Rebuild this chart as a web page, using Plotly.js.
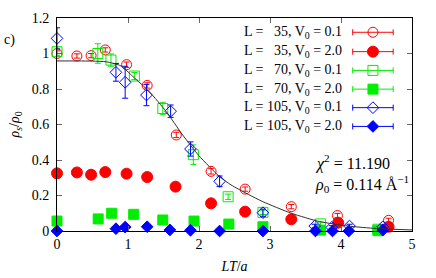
<!DOCTYPE html>
<html>
<head>
<meta charset="utf-8">
<script src="https://cdn.plot.ly/plotly-3.0.1.min.js"></script>
<style>html,body{margin:0;padding:0;background:#fff}#chart{width:436px;height:278px}</style>
</head>
<body>
<div id="chart"></div>
<script>
// ---- data ----
const seriesNames = [
  "L = \u200735, V<sub>0</sub> = 0.1",
  "L = \u200735, V<sub>0</sub> = 2.0",
  "L = \u200770, V<sub>0</sub> = 0.1",
  "L = \u200770, V<sub>0</sub> = 2.0",
  "L = 105, V<sub>0</sub> = 0.1",
  "L = 105, V<sub>0</sub> = 2.0"
];

const x35a = [0, 0.28, 0.48, 0.68, 0.98, 1.27, 1.68, 2.17, 2.65, 3.30, 3.95, 4.67];
const y35a = [1.0, 0.986, 0.988, 1.02, 0.937, 0.82, 0.541, 0.336, 0.236, 0.137, 0.087, 0.06];
const e35a = [0.015, 0.012, 0.012, 0.012, 0.015, 0.015, 0.015, 0.015, 0.012, 0.012, 0.012, 0.012];

const x35b = [0, 0.28, 0.48, 0.68, 0.98, 1.27, 1.67, 2.17, 2.65, 3.30, 3.96, 4.67];
const y35b = [0.325, 0.33, 0.317, 0.332, 0.323, 0.304, 0.25, 0.156, 0.109, 0.066, 0.047, 0.024];

const x70a = [0, 0.575, 0.76, 1.09, 1.49, 1.92, 2.41, 2.90, 3.71, 4.52];
const y70a = [1.01, 1.0, 0.963, 0.873, 0.69, 0.43, 0.193, 0.105, 0.04, 0.01];
const e70a = [0.02, 0.055, 0.035, 0.02, 0.035, 0.055, 0.015, 0.012, 0.01, 0.01];

const x70b = [0, 0.58, 0.77, 1.08, 1.49, 1.93, 2.42, 2.90, 3.71, 4.52];
const y70b = [0.056, 0.068, 0.1, 0.094, 0.062, 0.056, 0.039, 0.024, 0.005, 0.002];

const x105a = [0, 0.83, 0.96, 1.26, 1.60, 1.88, 2.29, 2.90, 3.63, 3.87, 4.12, 4.59];
const y105a = [1.085, 0.894, 0.838, 0.766, 0.675, 0.462, 0.28, 0.103, 0.028, 0.02, 0.028, 0.024];
const e105a = [0.06, 0.05, 0.09, 0.06, 0.035, 0.04, 0.03, 0.02, 0.01, 0.01, 0.01, 0.01];

const x105b = [0, 0.83, 0.96, 1.27, 1.59, 1.88, 2.29, 2.90, 3.64, 3.88, 4.11, 4.59];
const y105b = [0, 0.013, 0.022, 0.024, 0.006, 0.004, 0, 0, 0, 0, 0, 0.005];

const fitX = [0, 0.3, 0.5, 0.7, 0.9, 1.07, 1.3, 1.54, 1.77, 2.0, 2.29, 2.45, 2.7, 2.9, 3.3, 3.7, 4.1, 4.5, 5.0];
const fitY = [0.958, 0.958, 0.957, 0.953, 0.93, 0.87, 0.785, 0.672, 0.541, 0.424, 0.306, 0.26, 0.205, 0.165, 0.10, 0.053, 0.028, 0.014, 0.006];

const xTicks = [0, 1, 2, 3, 4, 5];
const yTicks = [0, 0.2, 0.4, 0.6, 0.8, 1, 1.2];
const yTickText = ["0", "0.2", "0.4", "0.6", "0.8", "1", "1.2"];

// ---- styles ----
const RED = "#ff0000", GREEN = "#00ee00", BLUE = "#0000ff";
const serif = "'Liberation Serif', 'Times New Roman', serif";

const styles = [
  {c: RED,   sym: "circle-open",  size: 10},
  {c: RED,   sym: "circle",       size: 11},
  {c: GREEN, sym: "square-open",  size: 10},
  {c: GREEN, sym: "square",       size: 10},
  {c: BLUE,  sym: "diamond-open", size: 9},
  {c: BLUE,  sym: "diamond",      size: 9}
];
const dataX = [x35a, x35b, x70a, x70b, x105a, x105b];
const dataY = [y35a, y35b, y70a, y70b, y105a, y105b];
const dataE = [e35a, null, e70a, null, e105a, null];

const traces = [];
for (let i = 0; i < 6; i++) {
  const s = styles[i];
  const t = {
    type: "scatter", mode: "markers", x: dataX[i], y: dataY[i], name: seriesNames[i],
    showlegend: false, cliponaxis: false,
    marker: {symbol: s.sym, size: s.size, color: s.c, line: {color: s.c, width: 1}}
  };
  if (dataE[i]) t.error_y = {type: "data", array: dataE[i], color: s.c, thickness: 1, width: 3};
  traces.push(t);
}
traces.push({type: "scatter", mode: "lines", x: fitX, y: fitY, showlegend: false,
  line: {color: "#303030", width: 1, shape: "spline", smoothing: 0.6}});

// legend samples on an overlay axis (fractions of the plot area)
const legRows = [0.933, 0.842, 0.754, 0.666, 0.579, 0.491];
const legX = 0.890, legHalf = 0.057, legTextX = 0.808;
const annotations = [];
for (let i = 0; i < 6; i++) {
  const s = styles[i];
  traces.push({type: "scatter", mode: "markers", x: [legX], y: [legRows[i]], xaxis: "x2", yaxis: "y2",
    showlegend: false, cliponaxis: false,
    marker: {symbol: s.sym, size: s.size, color: s.c, line: {color: s.c, width: 1}},
    error_x: {type: "data", array: [legHalf], color: s.c, thickness: 1, width: 3}});
  annotations.push({xref: "paper", yref: "paper", x: legTextX, y: legRows[i], xanchor: "right", yanchor: "middle",
    text: seriesNames[i], showarrow: false, font: {family: serif, size: 14, color: "#000"}});
}
annotations.push({xref: "paper", yref: "paper", x: 0.72, y: 0.322, xanchor: "left", yanchor: "middle",
  text: "<i>χ</i><sup>2</sup> = 11.190", showarrow: false, font: {family: serif, size: 16, color: "#000"}});
annotations.push({xref: "paper", yref: "paper", x: 0.72, y: 0.222, xanchor: "left", yanchor: "middle",
  text: "<i>ρ</i><sub>0</sub> = 0.114 Å<sup>−1</sup>", showarrow: false, font: {family: serif, size: 16, color: "#000"}});
annotations.push({xref: "paper", yref: "paper", x: -0.155, y: 0.897, xanchor: "left", yanchor: "middle",
  text: "c)", showarrow: false, font: {family: serif, size: 14, color: "#000"}});

const axisCommon = {
  showgrid: false, showline: true, linecolor: "#000", linewidth: 1, mirror: "ticks",
  ticks: "inside", ticklen: 5, tickcolor: "#666", tickwidth: 1,
  zeroline: true, zerolinecolor: "#000", zerolinewidth: 2,
  tickfont: {family: serif, size: 14, color: "#000"}
};

const layout = {
  width: 436, height: 278,
  margin: {l: 57, r: 24, t: 18, b: 47, pad: 0},
  paper_bgcolor: "#fff", plot_bgcolor: "#fff",
  showlegend: false,
  font: {family: serif},
  xaxis: Object.assign({}, axisCommon, {range: [0, 5], tickvals: xTicks, ticktext: xTicks.map(String),
    title: {text: "<i>LT</i>/<i>a</i>", font: {family: serif, size: 14, color: "#000"}, standoff: 10}}),
  yaxis: Object.assign({}, axisCommon, {range: [0, 1.2], tickvals: yTicks, ticktext: yTickText,
    ticklabelstandoff: 4,
    title: {text: "<i>ρ</i><sub><i>s</i></sub>/<i>ρ</i><sub>0</sub>", font: {family: serif, size: 14, color: "#000"}, standoff: 8}}),
  xaxis2: {overlaying: "x", range: [0, 1], visible: false},
  yaxis2: {overlaying: "y", range: [0, 1], visible: false},
  annotations: annotations
};

Plotly.newPlot("chart", traces, layout, {staticPlot: true, displayModeBar: false});
</script>
</body>
</html>
